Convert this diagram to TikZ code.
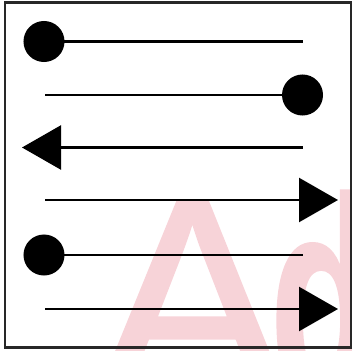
\documentclass[tikz,border=0pt]{standalone}
\usepackage{fontspec}
\usetikzlibrary{arrows.meta}
\newfontfamily\wmfont[FakeBold=0.9]{Liberation Sans}
\definecolor{wmpink}{RGB}{247,211,216}
\definecolor{framegray}{RGB}{40,40,40}
\tikzset{
  conn/.style={line width=2.4pt, draw=black},
  dotstart/.style={conn, {Circle[length=41pt]}-},
  dotend/.style={conn, -{Circle[length=41pt]}},
  arrstart/.style={conn, {Triangle[length=39pt,width=44pt]}-},
  arrend/.style={conn, -{Triangle[length=39pt,width=44pt]}},
  framebox/.style={draw=framegray, line width=2.6pt},
  wmark/.style={inner sep=0pt, outer sep=0pt, text=wmpink,
    font=\wmfont\fontsize{282pt}{282pt}\selectfont, anchor=base west}
}
\begin{document}
\begin{tikzpicture}[x=1pt,y=-1pt]
\useasboundingbox (0,0) rectangle (352,350);
\begin{scope}
\clip (0,0) rectangle (352,350);
\node[wmark] (wA) at (98,395) {A};
\node[wmark, font=\wmfont\bfseries\fontsize{282pt}{282pt}\selectfont, xscale=0.62] (wd) at (270,395) {d};
\end{scope}
\draw[framebox] (5,2.5) rectangle (351.5,347.5);
\coordinate (a1) at (23.5,41.5); \coordinate (b1) at (303,41.5);
\coordinate (a2) at (45,95);     \coordinate (b2) at (323,95);
\coordinate (a3) at (22,147.5);  \coordinate (b3) at (303,147.5);
\coordinate (a4) at (45,200);    \coordinate (b4) at (338,200);
\coordinate (a5) at (23.5,255);  \coordinate (b5) at (303,255);
\coordinate (a6) at (45,309);    \coordinate (b6) at (338,309);
\draw[dotstart] (a1) -- (b1);
\draw[dotend]   (a2) -- (b2);
\draw[arrstart] (a3) -- (b3);
\draw[arrend]   (a4) -- (b4);
\draw[dotstart] (a5) -- (b5);
\draw[arrend]   (a6) -- (b6);
\end{tikzpicture}
\end{document}
